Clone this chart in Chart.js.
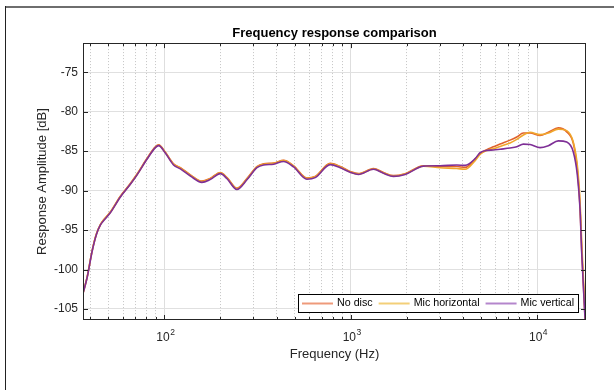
<!DOCTYPE html>
<html>
<head>
<meta charset="utf-8">
<script src="https://cdn.jsdelivr.net/npm/chart.js@4.4.1/dist/chart.umd.min.js"></script>
<style>
  html, body { margin: 0; padding: 0; background: #fff; overflow: hidden; }
  #chart { display: block; }
</style>
</head>
<body>
<canvas id="chart" width="614" height="390"></canvas>
<script>
// frequency points (Hz)
var freqHz = [36.6, 38.5, 41, 43.2, 45.4, 47.3, 51.3, 58.1, 65.7, 71.4,
  80.8, 89.5, 93.2, 101, 112, 122, 138, 159, 176, 200,
  217, 245, 278, 314, 341, 386, 436, 494, 582, 645,
  776, 879, 1000, 1101, 1325, 1499, 1696, 1960, 2457, 3019,
  3710, 4111, 4652, 4943, 5374, 5831, 6332, 7165, 7786, 8444,
  9171, 10376, 11500, 13000, 14430, 15650, 16450, 17005, 17360, 18090, 18310];

var noDisc = [-103.0, -101.0, -97.6, -95.5, -94.3, -93.7, -92.7, -90.7, -89.1, -87.9,
  -85.9, -84.45, -84.2, -85.1, -86.6, -87.1, -88.0, -88.8, -88.45, -87.7,
  -88.35, -89.7, -88.45, -86.95, -86.6, -86.5, -86.15, -86.85, -88.4, -88.2,
  -86.55, -86.95, -87.6, -87.85, -87.2, -87.7, -88.1, -87.85, -86.85, -86.95,
  -86.95, -87.05, -86.0, -85.3, -84.8, -84.45, -84.1, -83.6, -83.2, -82.7,
  -82.7, -83.0, -82.6, -82.05, -82.55, -84.0, -87.3, -92.0, -97.5, -106.0, -108.5];

var micHorizontal = [-103.0, -101.0, -97.6, -95.5, -94.3, -93.7, -92.75, -90.75, -89.15, -87.95,
  -85.95, -84.5, -84.25, -85.15, -86.65, -87.15, -88.05, -88.85, -88.5, -87.75,
  -88.4, -89.75, -88.5, -87.0, -86.65, -86.55, -86.2, -86.9, -88.45, -88.25,
  -86.6, -87.0, -87.65, -87.9, -87.25, -87.75, -88.15, -87.9, -86.9, -87.1,
  -87.2, -87.3, -86.2, -85.4, -84.9, -84.7, -84.4, -83.95, -83.5, -82.95,
  -82.6, -82.9, -82.7, -82.2, -82.4, -83.85, -86.8, -91.3, -96.5, -105.5, -108.0];

var micVertical = [-103.05, -101.05, -97.65, -95.55, -94.35, -93.8, -92.8, -90.8, -89.2, -88.0,
  -86.0, -84.55, -84.3, -85.2, -86.75, -87.25, -88.15, -88.95, -88.6, -87.85,
  -88.5, -89.85, -88.6, -87.1, -86.75, -86.65, -86.3, -87.0, -88.55, -88.35,
  -86.7, -87.1, -87.7, -87.95, -87.3, -87.8, -88.2, -87.95, -86.9, -86.85,
  -86.75, -86.8, -85.95, -85.2, -84.9, -84.85, -84.75, -84.6, -84.45, -84.1,
  -84.15, -84.55, -84.3, -83.7, -83.85, -85.1, -88.0, -92.3, -97.8, -106.2, -108.5];

var seriesNames = ['No disc', 'Mic horizontal', 'Mic vertical'];
var xTicks = [40, 50, 60, 70, 80, 90, 100, 200, 300, 400, 500, 600, 700, 800, 900,
  1000, 2000, 3000, 4000, 5000, 6000, 7000, 8000, 9000, 10000];
var xMajor = [100, 1000, 10000];
var xExponents = {100: '2', 1000: '3', 10000: '4'};
var yTicks = [-105, -100, -95, -90, -85, -80, -75];

var lineColors = ['#E0622C', '#F0A62C', '#7E2F96'];
var legendColors = ['#EE9A7A', '#F3CF78', '#B486CC'];
var FONT = '"Liberation Sans", Arial, sans-serif';
var TXT = '#262626';

function points(vals) {
    return freqHz.map(function(f, i) { return {x: f, y: vals[i]}; });
}

// outer figure frame (top and left edges only)
var figFrame = {
    id: 'figFrame',
    beforeDraw: function(chart) {
        var ctx = chart.ctx;
        ctx.save();
        ctx.fillStyle = '#6e6e6e';
        ctx.fillRect(5, 6, chart.width - 5, 2);
        ctx.fillStyle = '#222';
        ctx.fillRect(5, 6, 1, chart.height - 6);
        ctx.restore();
    }
};

// box, inner tick marks, powers-of-ten labels and the legend inside the axes
var axesBox = {
    id: 'axesBox',
    afterDatasetsDraw: function(chart) {
        var ctx = chart.ctx, a = chart.chartArea;
        var xs = chart.scales.x, ys = chart.scales.y;
        ctx.save();
        ctx.strokeStyle = TXT;
        ctx.lineWidth = 1;
        ctx.beginPath();
        xTicks.forEach(function(v) {
            var px = Math.round(xs.getPixelForValue(v)) + 0.5;
            var len = xMajor.indexOf(v) >= 0 ? 5 : 3;
            ctx.moveTo(px, a.bottom); ctx.lineTo(px, a.bottom - len);
            ctx.moveTo(px, a.top); ctx.lineTo(px, a.top + len);
        });
        yTicks.forEach(function(v) {
            var py = Math.round(ys.getPixelForValue(v)) + 0.5;
            ctx.moveTo(a.left, py); ctx.lineTo(a.left + 5, py);
            ctx.moveTo(a.right, py); ctx.lineTo(a.right - 5, py);
        });
        ctx.stroke();
        ctx.strokeRect(Math.round(a.left) + 0.5, Math.round(a.top) + 0.5,
            Math.round(a.right - a.left) - 1, Math.round(a.bottom - a.top) - 1);

        // x tick labels as 10 with a raised exponent
        ctx.fillStyle = TXT;
        ctx.textBaseline = 'middle';
        xMajor.forEach(function(v) {
            var px = xs.getPixelForValue(v);
            ctx.font = '12px ' + FONT;
            var bw = ctx.measureText('10').width;
            ctx.font = '8.5px ' + FONT;
            var ew = ctx.measureText(xExponents[v]).width;
            var left = px - (bw + ew) / 2 + 1;
            ctx.textAlign = 'left';
            ctx.font = '12px ' + FONT;
            ctx.fillText('10', left, a.bottom + 18);
            ctx.font = '8.5px ' + FONT;
            ctx.fillText(xExponents[v], left + bw + 0.5, a.bottom + 13);
        });

        // legend
        ctx.font = '10.7px ' + FONT;
        var sample = 31, pad = 4, gap = 4, sep = 6;
        var widths = seriesNames.map(function(n) { return ctx.measureText(n).width; });
        var w = pad * 2;
        widths.forEach(function(tw, i) { w += sample + gap + tw + (i < widths.length - 1 ? sep : 0); });
        var h = 18;
        var bx = Math.round(a.right - 8 - w), by = Math.round(a.bottom - 8 - h);
        ctx.fillStyle = '#fff';
        ctx.fillRect(bx, by, w, h);
        ctx.strokeStyle = '#000';
        ctx.strokeRect(bx + 0.5, by + 0.5, w, h);
        var cx = bx + pad, cy = by + h / 2 + 0.5;
        ctx.textBaseline = 'middle';
        ctx.textAlign = 'left';
        seriesNames.forEach(function(n, i) {
            ctx.strokeStyle = legendColors[i];
            ctx.lineWidth = 2;
            ctx.beginPath();
            ctx.moveTo(cx, cy); ctx.lineTo(cx + sample, cy);
            ctx.stroke();
            ctx.fillStyle = '#000';
            ctx.fillText(n, cx + sample + gap, cy);
            cx += sample + gap + widths[i] + sep;
        });
        ctx.restore();
    }
};

new Chart(document.getElementById('chart'), {
    type: 'line',
    data: {
        datasets: [
            {label: seriesNames[0], data: points(noDisc), borderColor: lineColors[0], order: 2},
            {label: seriesNames[1], data: points(micHorizontal), borderColor: lineColors[1], order: 1},
            {label: seriesNames[2], data: points(micVertical), borderColor: lineColors[2], order: 0}
        ]
    },
    options: {
        responsive: false,
        animation: false,
        parsing: false,
        elements: {
            line: {borderWidth: 1.6, cubicInterpolationMode: 'monotone', fill: false},
            point: {radius: 0}
        },
        layout: {padding: {left: 0, right: 28, top: 0, bottom: 0}},
        plugins: {
            legend: {display: false},
            tooltip: {enabled: false},
            title: {
                display: true,
                fullSize: false,
                text: 'Frequency response comparison',
                color: '#000',
                font: {family: FONT, size: 13, weight: 'bold'},
                padding: {top: 26, bottom: 1.5}
            }
        },
        scales: {
            x: {
                type: 'logarithmic',
                min: 36.6,
                max: 18310,
                afterBuildTicks: function(s) { s.ticks = xTicks.map(function(v) { return {value: v}; }); },
                afterFit: function(s) { s.height = 70; },
                ticks: {
                    autoSkip: false, maxRotation: 0, padding: 10, color: TXT,
                    font: {family: FONT, size: 12},
                    callback: function() { return ''; }
                },
                grid: {
                    drawTicks: false,
                    color: function(c) { return xMajor.indexOf(c.tick && c.tick.value) >= 0 ? '#DEDEDE' : '#C4C4C4'; },
                    lineWidth: 1
                },
                border: {
                    display: false,
                    dash: function(c) { return xMajor.indexOf(c.tick && c.tick.value) >= 0 ? [] : [1, 2]; }
                },
                title: {
                    display: true, text: 'Frequency (Hz)', color: TXT,
                    font: {family: FONT, size: 13}, padding: {top: 0, bottom: 28}
                }
            },
            y: {
                min: -106.4,
                max: -71.3,
                afterBuildTicks: function(s) { s.ticks = yTicks.map(function(v) { return {value: v}; }); },
                afterFit: function(s) { s.width = 83; },
                ticks: {padding: 5, color: TXT, font: {family: FONT, size: 12}},
                grid: {drawTicks: false, color: '#E0E0E0', lineWidth: 1},
                border: {display: false},
                title: {
                    display: true, text: 'Response Amplitude [dB]', color: TXT,
                    font: {family: FONT, size: 13}, padding: {top: 35, bottom: 0}
                }
            }
        }
    },
    plugins: [figFrame, axesBox]
});
</script>
</body>
</html>
